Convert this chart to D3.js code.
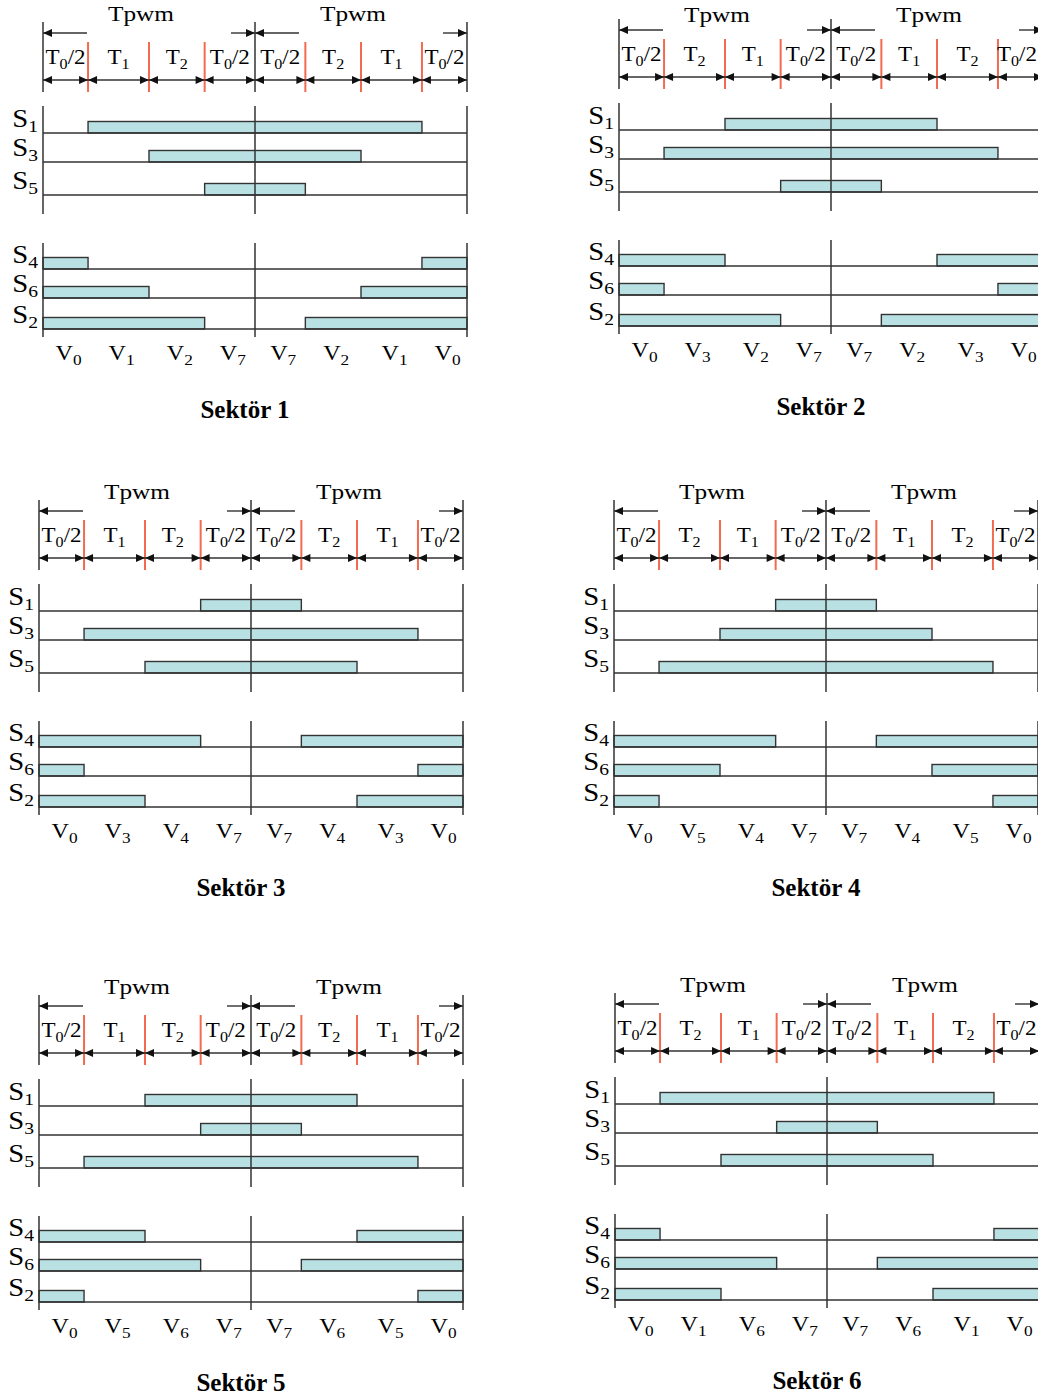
<!DOCTYPE html>
<html>
<head>
<meta charset="utf-8">
<script src="https://cdn.jsdelivr.net/npm/d3@7"></script>
<style>
    body { margin: 0; background: #fff; }
    svg text { font-family: "Liberation Serif", "Times New Roman", serif; fill: #000; }
</style>
</head>
<body>
<div id="chart"></div>
<script>
// segment boundaries over two half periods (time units 0..8)
const boundaries = [0, 0.85, 2, 3.05, 4, 4.95, 6, 7.15, 8];

const sectorNames = ['Sektör 1', 'Sektör 2', 'Sektör 3', 'Sektör 4', 'Sektör 5', 'Sektör 6'];

const segmentLabels = [
    ['T0/2', 'T1', 'T2', 'T0/2', 'T0/2', 'T2', 'T1', 'T0/2'],
    ['T0/2', 'T2', 'T1', 'T0/2', 'T0/2', 'T1', 'T2', 'T0/2'],
    ['T0/2', 'T1', 'T2', 'T0/2', 'T0/2', 'T2', 'T1', 'T0/2'],
    ['T0/2', 'T2', 'T1', 'T0/2', 'T0/2', 'T1', 'T2', 'T0/2'],
    ['T0/2', 'T1', 'T2', 'T0/2', 'T0/2', 'T2', 'T1', 'T0/2'],
    ['T0/2', 'T2', 'T1', 'T0/2', 'T0/2', 'T1', 'T2', 'T0/2'],
];

const vectorLabels = [
    ['V0', 'V1', 'V2', 'V7', 'V7', 'V2', 'V1', 'V0'],
    ['V0', 'V3', 'V2', 'V7', 'V7', 'V2', 'V3', 'V0'],
    ['V0', 'V3', 'V4', 'V7', 'V7', 'V4', 'V3', 'V0'],
    ['V0', 'V5', 'V4', 'V7', 'V7', 'V4', 'V5', 'V0'],
    ['V0', 'V5', 'V6', 'V7', 'V7', 'V6', 'V5', 'V0'],
    ['V0', 'V1', 'V6', 'V7', 'V7', 'V6', 'V1', 'V0'],
];

const upperSwitches = ['S1', 'S3', 'S5'];
const lowerSwitches = ['S4', 'S6', 'S2'];

// on intervals as [from, to] boundary indexes, per sector and switch
const upperOn = [
    [[[1, 7]], [[2, 6]], [[3, 5]]],
    [[[2, 6]], [[1, 7]], [[3, 5]]],
    [[[3, 5]], [[1, 7]], [[2, 6]]],
    [[[3, 5]], [[2, 6]], [[1, 7]]],
    [[[2, 6]], [[3, 5]], [[1, 7]]],
    [[[1, 7]], [[3, 5]], [[2, 6]]],
];
const lowerOn = [
    [[[0, 1], [7, 8]], [[0, 2], [6, 8]], [[0, 3], [5, 8]]],
    [[[0, 2], [6, 8]], [[0, 1], [7, 8]], [[0, 3], [5, 8]]],
    [[[0, 3], [5, 8]], [[0, 1], [7, 8]], [[0, 2], [6, 8]]],
    [[[0, 3], [5, 8]], [[0, 2], [6, 8]], [[0, 1], [7, 8]]],
    [[[0, 2], [6, 8]], [[0, 3], [5, 8]], [[0, 1], [7, 8]]],
    [[[0, 1], [7, 8]], [[0, 3], [5, 8]], [[0, 2], [6, 8]]],
];

// layout: [left x, y shift, extra shift of the Tpwm title]
const W = 1038, H = 1399;
const panelPos = [[43, 0, 0], [619, -3, 4], [39, 478, 0], [614, 478, 0], [39, 973, 0], [615, 971, 0]];
const panelW = 424;
const stretch = 1.15;
const ink = '#333';
const red = '#f26b50';
const barFill = '#b9e1e4';

const lay = {
    tpwmY: 21, arrowTopY: 33, labelY: 64, arrowBotY: 80,
    headTop: 22, redTop: 42, headBot: 92,
    upTop: 106, upBot: 214, upBase: [133, 162, 195],
    loTop: 243, loBot: 337, loBase: [269, 298, 329],
    barH: 11.5, vY: 360, titleY: 418,
};

const svg = d3.select('#chart').append('svg').attr('width', W).attr('height', H);

function subText(g, x, y, label, size, subSize, anchor) {
    let m = label.match(/^([A-Za-z]+)(\d)(.*)$/);
    let t = g.append('text')
        .attr('transform', `translate(${x},${y}) scale(${stretch},1)`)
        .attr('text-anchor', anchor)
        .style('font-size', size + 'px');
    t.append('tspan').text(m[1]);
    t.append('tspan').attr('dy', 5).style('font-size', subSize + 'px').text(m[2]);
    if (m[3]) t.append('tspan').attr('dy', -5).text(m[3]);
    return t;
}

function head(g, x, y, dir) {
    g.append('path')
        .attr('d', `M${x},${y}L${x - dir * 9},${y - 4}L${x - dir * 9},${y + 4}Z`)
        .attr('fill', '#111');
}

function vline(g, x, y1, y2, color, w) {
    g.append('line').attr('x1', x).attr('x2', x).attr('y1', y1).attr('y2', y2)
        .attr('stroke', color).attr('stroke-width', w);
}

function hline(g, x1, x2, y) {
    g.append('line').attr('x1', x1).attr('x2', x2).attr('y1', y).attr('y2', y)
        .attr('stroke', ink).attr('stroke-width', 1.4);
}

sectorNames.forEach((name, si) => {
    let [px, py, tdy] = panelPos[si];
    let g = svg.append('g').attr('transform', `translate(${px},${py})`);
    let x = d3.scaleLinear().domain([0, 8]).range([0, panelW]);
    let segs = d3.pairs(boundaries);
    let xc = x(4), xr = x(8);

    // Tpwm header
    [[x(0), xc], [xc, xr]].forEach(([a, b]) => {
        g.append('text')
            .attr('transform', `translate(${(a + b) / 2 - 8},${lay.tpwmY + tdy}) scale(${stretch},1)`)
            .attr('text-anchor', 'middle')
            .style('font-size', '22px')
            .text('Tpwm');
        hline(g, a, a + 44, lay.arrowTopY);
        head(g, a, lay.arrowTopY, -1);
        hline(g, b - 24, b, lay.arrowTopY);
        head(g, b, lay.arrowTopY, 1);
    });

    [0, 4, 8].forEach((i) => vline(g, x(i), lay.headTop, lay.headBot, ink, 1.5));
    [1, 2, 3, 5, 6, 7].forEach((i) => vline(g, x(boundaries[i]), lay.redTop, lay.headBot, red, 2));

    segs.forEach(([a, b], k) => {
        let xa = x(a), xb = x(b);
        hline(g, xa, xb, lay.arrowBotY);
        head(g, xa, lay.arrowBotY, -1);
        head(g, xb, lay.arrowBotY, 1);
        let cx = (xa + xb) / 2;
        let t = subText(g, cx, lay.labelY, segmentLabels[si][k], 20, 14, 'middle');
        // keep labels inside the page at the right edge
        let over = px + cx + (t.node().getBBox().width * stretch) / 2 - (W - 1);
        if (over > 0) subText(g, cx - over, lay.labelY, segmentLabels[si][k], 20, 14, 'middle') && t.remove();
    });

    // switching states
    function group(names, onList, base, top, bot) {
        names.forEach((s, j) => {
            onList[j].forEach(([i0, i1]) => {
                g.append('rect')
                    .attr('x', x(boundaries[i0]))
                    .attr('y', base[j] - lay.barH)
                    .attr('width', x(boundaries[i1]) - x(boundaries[i0]))
                    .attr('height', lay.barH)
                    .attr('fill', barFill)
                    .attr('stroke', ink)
                    .attr('stroke-width', 1.4);
            });
            hline(g, x(0), xr, base[j]);
            subText(g, x(0) - 5, base[j] - 6, s, 25, 17, 'end');
        });
        [0, 4, 8].forEach((i) => vline(g, x(i), top, bot, ink, 1.5));
    }
    group(upperSwitches, upperOn[si], lay.upBase, lay.upTop, lay.upBot);
    group(lowerSwitches, lowerOn[si], lay.loBase, lay.loTop, lay.loBot);

    segs.forEach(([a, b], k) => {
        subText(g, (x(a) + x(b)) / 2 + 3, lay.vY, vectorLabels[si][k], 21, 15, 'middle');
    });

    g.append('text')
        .attr('x', xc - 10)
        .attr('y', lay.titleY)
        .attr('text-anchor', 'middle')
        .style('font-size', '25px')
        .style('font-weight', 'bold')
        .text(name);
});
</script>
</body>
</html>
